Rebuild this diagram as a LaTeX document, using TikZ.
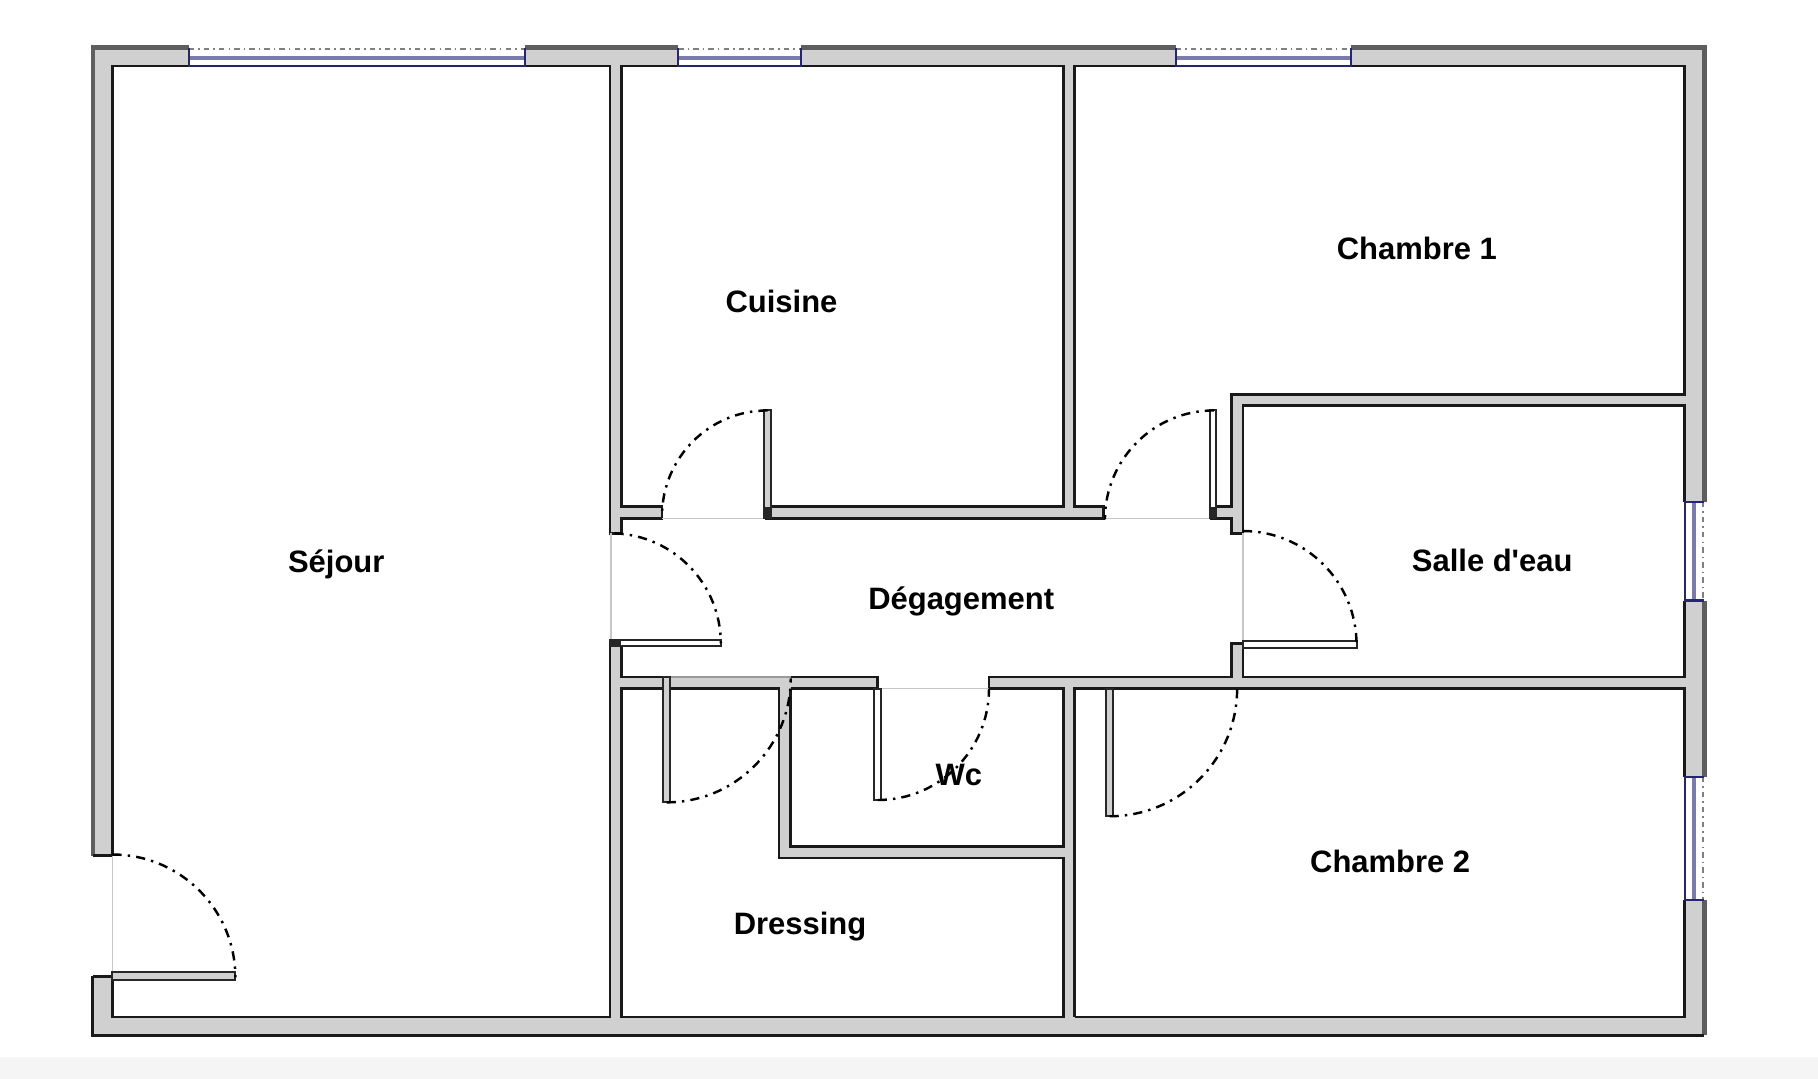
\documentclass[tikz,border=0pt]{standalone}
\usepackage{fontspec}
\newfontfamily\roomfont{Liberation Sans}
\definecolor{wallgray}{HTML}{D0D0D0}
\definecolor{edgegray}{HTML}{5E5E5E}
\definecolor{glassblue}{HTML}{7A7AB0}
\definecolor{framenavy}{HTML}{26266E}
\begin{document}
\begin{tikzpicture}
[
x=0.02cm, y=-0.02cm,
wallline/.style={draw=black!90, line width=1.3pt},
outerline/.style={draw=edgegray, line width=2.1pt},
doorarc/.style={draw=black, line width=1.2pt, dash pattern=on 4.5pt off 3pt on 1.2pt off 3pt},
doorleaf/.style={draw=black!85, line width=1pt, fill=wallgray},
doorthin/.style={draw=black!85, line width=1pt, fill=white},
threshold/.style={draw=black!22, line width=0.7pt},
glass/.style={draw=glassblue, line width=1.8pt},
framing/.style={draw=framenavy, line width=1.1pt},
sill/.style={draw=black!50, line width=1.1pt, dash pattern=on 2.6pt off 2pt on 0.8pt off 2pt},
hinge/.style={fill=black!85},
roomlabel/.style={font=\roomfont\fontsize{15.2}{17}\selectfont\bfseries, inner sep=0pt},
]
\useasboundingbox (0,0) rectangle (1568,930.6);
\fill[white] (0,0) rectangle (1568,930.6);
\fill[black!4] (0,912) rectangle (1568,930.6);
%draw the wall mass
\fill[wallgray] (80,41) rectangle (1470,893);
%cut out the rooms
\fill[white] (97,57) rectangle (526,877);
\fill[white] (80,738) rectangle (97,842);
\fill[white] (526,460) rectangle (536,555);
\fill[white] (536,447) rectangle (1062,585);
\fill[white] (1062,460) rectangle (1072,555);
\fill[white] (571,437) rectangle (660,447);
\fill[white] (952,437) rectangle (1044,447);
\fill[white] (757,585) rectangle (853,594);
\fill[white] (536,57) rectangle (917,437);
\fill[white] (927,57) rectangle (1453,340);
\fill[white] (927,340) rectangle (1062,437);
\fill[white] (1072,350) rectangle (1453,584);
\fill[white] (536,594) rectangle (672,877);
\fill[white] (672,740) rectangle (917,877);
\fill[white] (682,594) rectangle (917,730);
\fill[white] (927,594) rectangle (1453,877);
%cut out the windows
\fill[white] (163,41) rectangle (453,57);
\fill[white] (585,41) rectangle (691,57);
\fill[white] (1014,41) rectangle (1165,57);
\fill[white] (1453,433) rectangle (1470,518);
\fill[white] (1453,670) rectangle (1470,776);
%draw the outer edges
\draw[outerline] (80,738) -- (80,41) -- (163,41);
\draw[outerline] (453,41) -- (585,41);
\draw[outerline] (691,41) -- (1014,41);
\draw[outerline] (1165,41) -- (1470,41) -- (1470,433);
\draw[outerline] (1470,518) -- (1470,670);
\draw[outerline] (1470,776) -- (1470,893);
\draw[wallline] (80,842) -- (80,893) -- (1470,893);
\draw[wallline] (80,738) -- (97,738);
\draw[wallline] (80,842) -- (97,842);
%draw the room edges
\draw[wallline] (97,738) -- (97,57) -- (526,57) -- (526,460) -- (536,460) -- (536,447) -- (571,447) -- (571,437) -- (536,437) -- (536,57) -- (917,57) -- (917,437) -- (660,437);
\draw[wallline] (660,447) -- (952,447) -- (952,437) -- (927,437) -- (927,57) -- (1453,57) -- (1453,340) -- (1062,340) -- (1062,437) -- (1044,437);
\draw[wallline] (1044,447) -- (1062,447) -- (1062,460) -- (1072,460) -- (1072,350) -- (1453,350) -- (1453,433);
\draw[wallline] (1453,518) -- (1453,584) -- (1072,584) -- (1072,555) -- (1062,555) -- (1062,584) -- (853,584) -- (853,594);
\draw[wallline] (757,594) -- (757,584) -- (682,584);
\draw[draw=black!40, line width=1.1pt] (682,584) -- (575,584);
\draw[wallline] (575,584) -- (536,584) -- (536,555) -- (526,555) -- (526,877) -- (97,877) -- (97,842);
\draw[wallline] (536,877) -- (536,594) -- (672,594) -- (672,740) -- (917,740) -- (917,877) -- cycle;
\draw[wallline] (682,594) -- (757,594);
\draw[wallline] (853,594) -- (917,594) -- (917,730) -- (682,730) -- (682,594);
\draw[wallline] (927,877) -- (927,594) -- (1453,594) -- (1453,670);
\draw[wallline] (1453,776) -- (1453,877) -- (927,877);
%draw the windows
\draw[glass] (163,50) -- (453,50);
\draw[glass] (585,50) -- (691,50);
\draw[glass] (1014,50) -- (1165,50);
\draw[glass] (1461,433) -- (1461,518);
\draw[glass] (1461,670) -- (1461,776);
\draw[sill] (163,42) -- (453,42);
\draw[sill] (585,42) -- (691,42);
\draw[sill] (1014,42) -- (1165,42);
\draw[sill] (1469,433) -- (1469,518);
\draw[sill] (1469,670) -- (1469,776);
\draw[framing] (163,41) -- (163,57) -- (453,57) -- (453,41);
\draw[framing] (585,41) -- (585,57) -- (691,57) -- (691,41);
\draw[framing] (1014,41) -- (1014,57) -- (1165,57) -- (1165,41);
\draw[framing] (1470,433) -- (1453,433) -- (1453,518) -- (1470,518);
\draw[framing] (1470,670) -- (1453,670) -- (1453,776) -- (1470,776);
%draw the door openings
\draw[threshold] (97,738) -- (97,842);
\draw[threshold] (527,460) -- (527,555);
\draw[threshold] (571,447) -- (660,447);
\draw[threshold] (952,447) -- (1044,447);
\draw[threshold] (1072,460) -- (1072,555);
\draw[threshold] (757,594) -- (853,594);
%draw the door leaves
\draw[doorleaf] (97,838) rectangle (203,845);
\draw[doorthin] (526,552) rectangle (622,557);
\draw[doorleaf] (659,354) rectangle (665,447);
\draw[doorthin] (1044,354) rectangle (1049,447);
\draw[doorthin] (1072,553) rectangle (1170,559);
\draw[doorleaf] (572,584) rectangle (578,692);
\draw[doorthin] (754,594) rectangle (760,690);
\draw[doorleaf] (954,594) rectangle (960,704);
\fill[hinge] (659,437) rectangle (665,447);
\fill[hinge] (1044,437) rectangle (1049,447);
\fill[hinge] (526,552) rectangle (536,557);
%draw the door swings
\draw[doorarc] (97,737) arc[start angle=270, end angle=360, radius=106];
\draw[doorarc] (530,460) arc[start angle=272, end angle=360, radius=95];
\draw[doorarc] (662,354) arc[start angle=270, end angle=180, radius=91];
\draw[doorarc] (1047,354) arc[start angle=270, end angle=180, radius=94];
\draw[doorarc] (1072,458) arc[start angle=270, end angle=360, radius=98];
\draw[doorarc] (575,692) arc[start angle=90, end angle=0, radius=107];
\draw[doorarc] (757,690) arc[start angle=90, end angle=0, radius=96];
\draw[doorarc] (957,704) arc[start angle=90, end angle=0, radius=110];
%draw the room names
\node[roomlabel] (sejour) at (290,487) {Séjour};
\node[roomlabel] (cuisine) at (674,260) {Cuisine};
\node[roomlabel] (chambreun) at (1222,214) {Chambre 1};
\node[roomlabel] (degagement) at (829,519) {Dégagement};
\node[roomlabel] (salleeau) at (1287,483) {Salle d'eau};
\node[roomlabel] (wc) at (827,668) {Wc};
\node[roomlabel] (dressing) at (690,799) {Dressing};
\node[roomlabel] (chambredeux) at (1199,743) {Chambre 2};
\end{tikzpicture}
\end{document}
